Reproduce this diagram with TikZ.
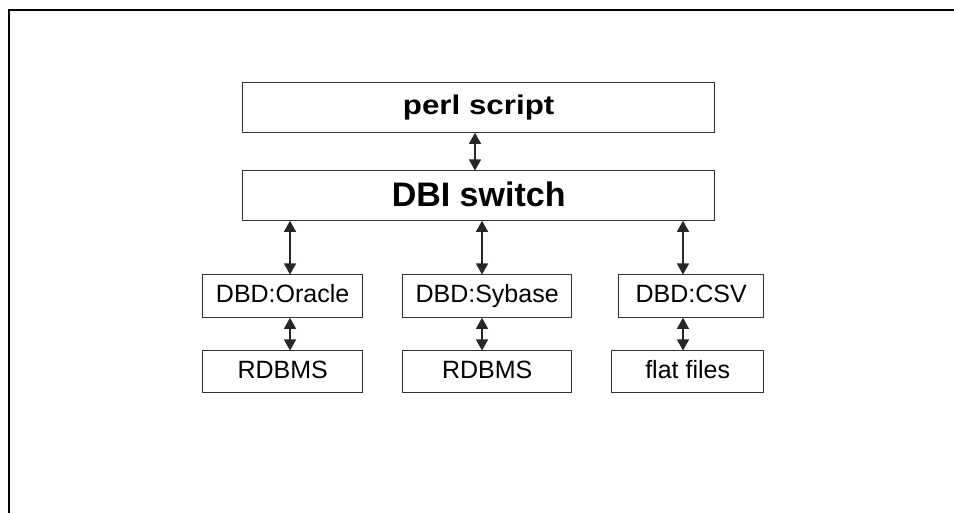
\documentclass[tikz,border=0pt]{standalone}
\usepackage{fontspec}
\setmainfont{Liberation Sans}
\newfontfamily\widesans[FakeStretch=1.16]{Liberation Sans}
\usetikzlibrary{arrows.meta}
\begin{document}
\begin{tikzpicture}[x=1pt,y=-1pt,
  box/.style={draw=black!80,line width=1.3pt,inner sep=0pt,anchor=north west,text height=18pt,text depth=5pt},
  smalltext/.style={font=\fontsize{25}{28}\selectfont},
  arr/.style={line width=1.3pt,draw=black!85,{Triangle[width=12pt,length=11pt]}-{Triangle[width=12pt,length=11pt]},shorten <=-0.5pt,shorten >=-0.5pt}]
\useasboundingbox (0,0) rectangle (954,513);
\draw[line width=2.2pt] (9,513) -- (9,10) -- (954,10);
% top boxes
\node[box,minimum width=472pt,minimum height=50pt,font=\widesans\fontsize{27}{32}\selectfont\bfseries,text height=20pt,text depth=6pt] (perl) at (242,82) {perl script};
\node[box,minimum width=472pt,minimum height=50pt,font=\fontsize{34}{38}\selectfont\bfseries,text height=25pt,text depth=4pt] (dbi) at (242,170) {DBI switch};
% drivers
\node[box,minimum width=160pt,minimum height=43pt,smalltext] (ora) at (202,274) {DBD:Oracle};
\node[box,minimum width=169pt,minimum height=43pt,smalltext] (syb) at (402,274) {DBD:Sybase};
\node[box,minimum width=145pt,minimum height=43pt,smalltext] (csv) at (618,274) {DBD:CSV};
% data stores
\node[box,minimum width=160pt,minimum height=42pt,smalltext] (rd1) at (202,350) {RDBMS};
\node[box,minimum width=169pt,minimum height=42pt,smalltext] (rd2) at (402,350) {RDBMS};
\node[box,minimum width=152pt,minimum height=42pt,smalltext] (ff) at (611,350) {flat files};
% connectors
\draw[arr] (475,0 |- perl.south) -- (475,0 |- dbi.north);
\draw[arr] (290,0 |- dbi.south) -- (290,0 |- ora.north);
\draw[arr] (482,0 |- dbi.south) -- (482,0 |- syb.north);
\draw[arr] (683,0 |- dbi.south) -- (683,0 |- csv.north);
\draw[arr] (290,0 |- ora.south) -- (290,0 |- rd1.north);
\draw[arr] (482,0 |- syb.south) -- (482,0 |- rd2.north);
\draw[arr] (683,0 |- csv.south) -- (683,0 |- ff.north);
\end{tikzpicture}
\end{document}
